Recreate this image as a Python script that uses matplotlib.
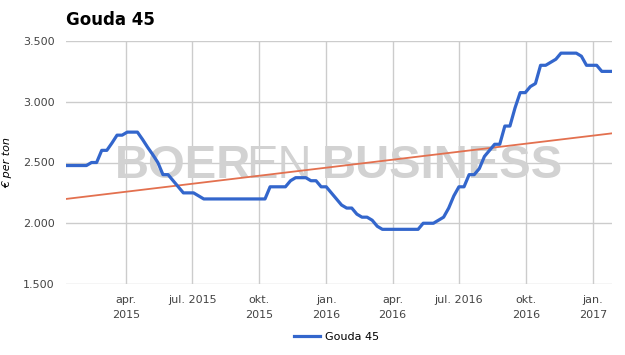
import matplotlib
matplotlib.use("Agg")
import matplotlib.pyplot as plt
import numpy as np
import pandas as pd

BLUE = "#3366cc"
TREND = "#e3704f"
GRID = "#cccccc"
TICK_COLOR = "#444444"
WATERMARK = "#d2d2d2"

# weekly price of Gouda 45 (euro per ton), first week 9 jan 2015
first_week = "2015-01-09"
prices = [
    2475, 2475, 2475, 2475, 2475, 2500, 2500, 2600, 2600, 2660,
    2725, 2725, 2750, 2750, 2750, 2690, 2625, 2565, 2500, 2400,
    2400, 2350, 2300, 2250, 2250, 2250, 2225, 2200, 2200, 2200,
    2200, 2200, 2200, 2200, 2200, 2200, 2200, 2200, 2200, 2200,
    2300, 2300, 2300, 2300, 2350, 2375, 2375, 2375, 2350, 2350,
    2300, 2300, 2250, 2200, 2150, 2125, 2125, 2075, 2050, 2050,
    2025, 1975, 1950, 1950, 1950, 1950, 1950, 1950, 1950, 1950,
    2000, 2000, 2000, 2025, 2050, 2125, 2225, 2300, 2300, 2400,
    2400, 2450, 2550, 2600, 2650, 2650, 2800, 2800, 2950, 3075,
    3075, 3125, 3150, 3300, 3300, 3325, 3350, 3400, 3400, 3400,
    3400, 3375, 3300, 3300, 3300, 3250, 3250, 3250,
]
# linear trend line, value at first and last week
trend_values = [2200, 2740]

y_ticks = [1500, 2000, 2500, 3000, 3500]
y_tick_labels = ["1.500", "2.000", "2.500", "3.000", "3.500"]
x_ticks = ["2015-04-01", "2015-07-01", "2015-10-01", "2016-01-01",
           "2016-04-01", "2016-07-01", "2016-10-01", "2017-01-01"]
x_tick_labels = ["apr.\n2015", "jul. 2015", "okt.\n2015", "jan.\n2016",
                 "apr.\n2016", "jul. 2016", "okt.\n2016", "jan.\n2017"]

dates = pd.date_range(first_week, periods=len(prices), freq="7D")

fig = plt.figure(figsize=(6.25, 3.55), dpi=100)
ax = fig.add_axes([66 / 625, 71 / 355, 546 / 625, 243 / 355])

line, = ax.plot(dates, prices, color=BLUE, linewidth=2.3, zorder=4,
                solid_joinstyle="round", label="Gouda 45")
ax.plot([dates[0], dates[-1]], trend_values, color=TREND, linewidth=1.3, zorder=3)

ax.set_xlim(dates[0], dates[-1])
ax.set_ylim(1500, 3500)
ax.set_yticks(y_ticks)
ax.set_yticklabels(y_tick_labels)
ax.set_xticks(pd.to_datetime(x_ticks))
ax.set_xticklabels(x_tick_labels, linespacing=1.55, va="top")

ax.grid(True, color=GRID, linewidth=1.0, zorder=0)
ax.set_axisbelow(True)
for s in ax.spines.values():
    s.set_visible(False)
ax.tick_params(length=0, colors=TICK_COLOR, labelsize=8)
ax.tick_params(axis="y", pad=8)
ax.tick_params(axis="x", pad=8)

ax.set_ylabel("€ per ton", fontsize=8, style="italic")
ax.yaxis.set_label_coords(-54 / 546, 0.5)

# watermark, behind the lines but over the grid
wm_y = 1 - 178 / 355
for x_px, word, weight in [(115, "BOER", "bold"), (246, "EN", "normal"), (322, "BUSINESS", "bold")]:
    ax.text(x_px / 625, wm_y, word, fontsize=34, fontweight=weight, color=WATERMARK,
            family="Liberation Sans", va="baseline", ha="left", zorder=2,
            transform=fig.transFigure, clip_on=False)

fig.text(66 / 625, 1 - 20 / 355, "Gouda 45", fontsize=12, fontweight="bold",
         va="center", ha="left")

fig.legend(handles=[line], loc="center", bbox_to_anchor=(337 / 625, 1 - 337 / 355),
           frameon=False, fontsize=8, handlelength=2.3, handletextpad=0.5)

fig.savefig("out.png", dpi=100)
